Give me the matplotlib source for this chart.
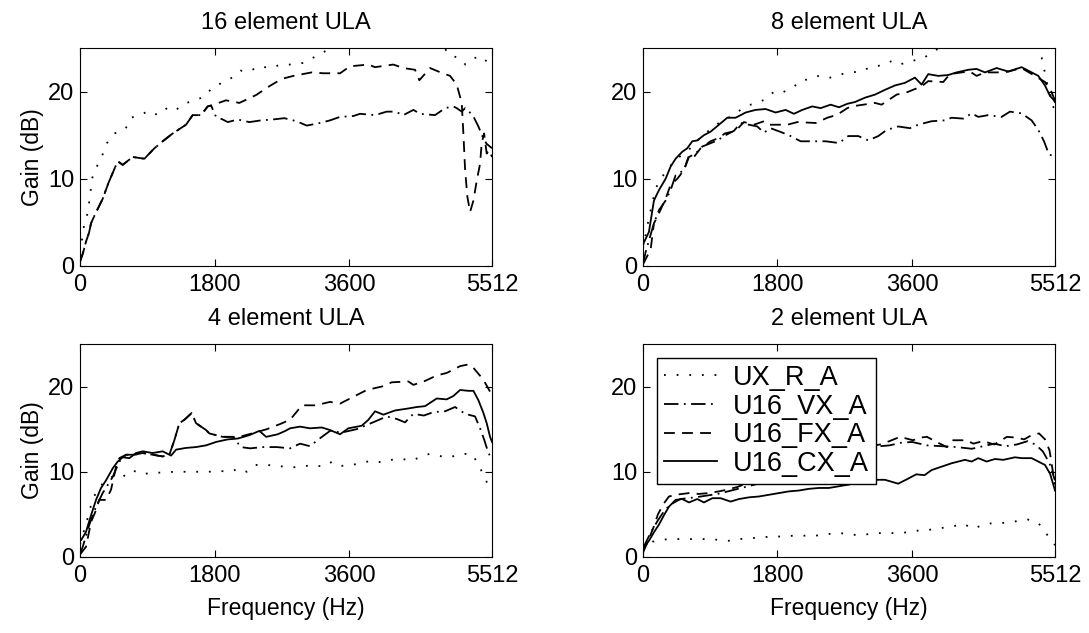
import matplotlib
matplotlib.use("Agg")
import matplotlib.pyplot as plt

plt.rcParams['font.family'] = ['Liberation Sans', 'DejaVu Sans']

# frequency ticks shared by all panels
xticks = [0, 1800, 3600, 5512]
yticks = [0, 10, 20]
titles = ["16 element ULA", "8 element ULA", "4 element ULA", "2 element ULA"]
labels = ["UX_R_A", "U16_VX_A", "U16_FX_A", "U16_CX_A"]

# ---- 16 element ULA ----
e16_r_f = [0, 58, 111, 125, 147, 170, 241, 308, 361, 460, 607, 682, 794, 928, 1039, 1164, 1271, 1387,
           1539, 1673, 1771, 1900, 2034, 2145, 2261, 2395, 2547, 2685, 2845, 2997, 3122, 3247, 3400, 3700,
           4000, 4300, 4600, 4850, 4951, 5071, 5156, 5271, 5352, 5464, 5512]
e16_r_g = [1.5, 4.9, 6.3, 7.6, 9.0, 10.4, 11.7, 12.9, 14.1, 15.2, 15.7, 17.0, 17.3, 17.8, 17.3, 18.1, 17.8, 18.6,
           19.0, 19.45, 20.5, 21.0, 21.6, 22.4, 22.3, 22.9, 22.7, 23.1, 23.1, 23.3, 23.9, 24.45, 25.3, 25.8,
           26.0, 26.0, 25.8, 25.3, 24.1, 23.9, 23.1, 23.8, 24.1, 23.3, 23.5]
e16_vx_f = [0, 40, 80, 120, 147, 205, 303, 379, 473, 504, 571, 705, 861, 995, 1106, 1240, 1418, 1507, 1619,
            1708, 1753, 1820, 1909, 1976, 2110, 2266, 2422, 2578, 2734, 2898, 3033, 3211, 3345, 3479, 3657,
            3746, 3947, 4103, 4215, 4326, 4460, 4549, 4750, 4884, 4996, 5040, 5107, 5152, 5254, 5330, 5397,
            5441, 5512]
e16_vx_g = [0.5, 1.5, 2.8, 3.8, 4.9, 6.0, 7.7, 9.5, 11.4, 12.0, 11.6, 12.5, 12.3, 13.5, 14.3, 15.2, 16.2, 17.3, 17.3,
            18.3, 18.4, 17.1, 16.8, 16.5, 16.8, 16.5, 16.7, 16.8, 16.95, 16.6, 16.1, 16.4, 16.7, 17.1, 17.2,
            17.45, 17.3, 17.7, 17.7, 17.3, 17.9, 17.45, 17.3, 18.1, 18.3, 18.1, 17.7, 18.1, 17.3, 16.0, 14.6,
            14.0, 13.5]
e16_fx_f = [0, 40, 80, 120, 147, 205, 303, 379, 473, 504, 571, 705, 861, 995, 1106, 1240, 1418, 1507, 1619,
            1708, 1753, 1954, 2132, 2355, 2511, 2667, 2720, 2854, 3100, 3256, 3479, 3613, 3858, 3947, 4192,
            4326, 4482, 4540, 4683, 4795, 4951, 5040, 5107, 5129, 5152, 5183, 5219, 5263, 5308, 5352, 5374,
            5406, 5441, 5476, 5512]
e16_fx_g = [0.5, 1.5, 2.8, 3.8, 4.9, 6.0, 7.7, 9.5, 11.4, 12.0, 11.6, 12.5, 12.3, 13.5, 14.3, 15.2, 16.2, 17.3, 17.3,
            18.3, 18.4, 19.0, 18.7, 19.6, 20.5, 21.3, 21.5, 21.8, 22.2, 22.1, 22.1, 22.9, 23.1, 22.8, 23.1,
            22.7, 22.5, 21.3, 22.7, 22.3, 21.8, 20.8, 18.7, 15.2, 11.0, 7.9, 6.2, 7.5, 9.8, 11.7, 14.1,
            15.2, 12.9, 13.3, 12.5]

# ---- 8 element ULA ----
e8_r_f = [0, 80, 169, 300, 450, 589, 800, 1000, 1204, 1374, 1507, 1641, 1753, 1864, 1998, 2119, 2230, 2364,
          2502, 2658, 2770, 2926, 3059, 3193, 3327, 3439, 3572, 3728, 3862, 4000, 4300, 4700, 5000, 5250,
          5334, 5370, 5401, 5446, 5468, 5512]
e8_r_g = [2.0, 5.5, 8.9, 10.8, 12.3, 13.1, 15.0, 16.3, 17.3, 18.3, 18.7, 19.1, 20.0, 19.9, 20.4, 21.3, 21.4, 21.85,
          21.6, 22.0, 22.2, 22.3, 22.9, 22.99, 23.5, 23.1, 23.5, 23.7, 24.45, 25.2, 25.8, 26.0, 25.8, 25.0,
          23.9, 22.5, 21.1, 20.1, 18.5, 18.0]
e8_vx_f = [0, 36, 147, 214, 303, 370, 437, 549, 616, 705, 794, 883, 995, 1106, 1218, 1307, 1418, 1530, 1619,
           1708, 1864, 1976, 2110, 2311, 2445, 2623, 2747, 2881, 3015, 3149, 3260, 3416, 3572, 3684, 3862,
           4040, 4129, 4286, 4397, 4487, 4620, 4799, 4910, 5066, 5200, 5290, 5366, 5432, 5490, 5512]
e8_vx_g = [0.2, 1.6, 4.9, 6.4, 7.5, 8.7, 10.4, 11.0, 12.5, 12.9, 13.7, 14.0, 14.4, 15.0, 15.5, 16.4, 16.2, 16.0, 15.3,
           15.8, 15.3, 14.9, 14.3, 14.3, 14.3, 14.1, 14.9, 14.9, 14.4, 14.9, 15.6, 16.0, 15.8, 16.2, 16.6,
           16.7, 17.0, 16.9, 17.5, 17.1, 17.3, 17.1, 17.7, 17.5, 16.7, 15.6, 14.3, 12.8, 12.6, 12.8]
e8_fx_f = [0, 13, 103, 147, 190, 303, 370, 460, 549, 616, 682, 772, 905, 1017, 1097, 1240, 1351, 1485, 1619,
           1686, 1931, 2065, 2311, 2467, 2600, 2734, 2792, 2950, 3104, 3193, 3394, 3527, 3728, 3817, 4018,
           4107, 4264, 4375, 4464, 4576, 4687, 4843, 5066, 5245, 5379, 5459, 5512]
e8_fx_g = [0.2, 0.4, 1.9, 4.9, 5.6, 7.7, 9.3, 10.0, 11.0, 12.7, 12.5, 13.5, 14.3, 14.7, 15.2, 15.5, 16.5, 16.2, 16.6,
           16.2, 16.2, 16.5, 16.4, 17.0, 17.35, 18.1, 18.3, 18.5, 18.7, 18.5, 19.65, 19.9, 20.6, 21.2, 21.1,
           22.0, 22.2, 22.3, 21.8, 22.2, 22.2, 22.2, 22.7, 21.8, 21.1, 20.1, 19.0]
e8_cx_f = [0, 13, 80, 147, 214, 303, 370, 437, 526, 593, 660, 727, 816, 905, 1017, 1128, 1240, 1374, 1507,
           1641, 1775, 1909, 2020, 2132, 2266, 2377, 2511, 2623, 2734, 2836, 2970, 3104, 3238, 3371, 3505,
           3639, 3728, 3817, 3951, 4085, 4197, 4353, 4464, 4576, 4732, 4888, 5066, 5178, 5290, 5379, 5446,
           5490, 5512]
e8_cx_g = [2.3, 2.7, 3.9, 7.5, 8.7, 10.0, 11.4, 12.3, 13.1, 13.5, 14.3, 14.4, 15.0, 15.4, 16.2, 17.0, 17.0, 17.6, 17.9,
           18.0, 17.6, 17.9, 17.45, 17.9, 18.3, 18.1, 18.5, 18.2, 18.6, 18.8, 19.3, 19.65, 20.2, 20.7, 21.0,
           21.6, 20.8, 22.0, 21.8, 21.9, 22.2, 22.5, 22.6, 22.2, 22.7, 22.3, 22.8, 22.3, 21.8, 20.7, 19.5,
           19.1, 18.8]

# ---- 4 element ULA ----
e4_r_f = [0, 100, 147, 200, 300, 428, 571, 696, 830, 964, 1097, 1262, 1418, 1574, 1721, 1864, 2007, 2132,
          2230, 2346, 2498, 2645, 2810, 2966, 3113, 3256, 3376, 3501, 3644, 3782, 3916, 4036, 4192, 4312,
          4424, 4549, 4674, 4808, 4951, 5085, 5241, 5330, 5397, 5464, 5512]
e4_r_g = [1.5, 4.5, 6.1, 7.3, 8.6, 9.4, 9.4, 10.2, 9.7, 9.9, 9.9, 10.0, 10.0, 10.0, 10.0, 10.1, 10.0, 10.4,
          10.0, 10.8, 10.8, 10.7, 10.5, 10.6, 10.8, 10.6, 11.2, 10.7, 10.8, 11.1, 11.3, 11.1, 11.45, 11.5,
          11.3, 11.7, 12.1, 11.85, 11.7, 12.1, 12.1, 10.9, 9.6, 8.4, 7.8]
e4_vx_f = [0, 36, 125, 214, 303, 437, 526, 616, 727, 839, 972, 1106, 1195, 1262, 1329, 1396, 1494, 1552,
           1686, 1730, 1909, 2050, 2150, 2275, 2453, 2632, 2810, 2944, 3077, 3190, 3345, 3500, 3700, 3947,
           4103, 4237, 4348, 4460, 4600, 4727, 4884, 5018, 5152, 5285, 5352, 5406, 5464, 5512]
e4_vx_g = [0.3, 1.2, 3.8, 5.9, 7.5, 9.4, 11.2, 12.0, 12.0, 12.2, 12.0, 11.8, 12.0, 13.7, 15.7, 16.1, 16.9, 15.7,
           14.9, 14.5, 14.1, 14.1, 12.9, 12.75, 12.9, 12.9, 12.75, 13.3, 13.0, 13.8, 14.8, 14.6, 15.0, 15.9,
           16.5, 16.2, 15.8, 16.8, 16.6, 17.0, 17.1, 17.6, 16.8, 16.5, 15.1, 13.8, 12.2, 11.5]
e4_fx_f = [0, 80, 147, 214, 257, 348, 415, 482, 526, 616, 727, 839, 972, 1106, 1195, 1262, 1329, 1396, 1494,
           1552, 1686, 1730, 1909, 2132, 2300, 2500, 2676, 2810, 2970, 3150, 3345, 3479, 3702, 3836, 4036,
           4170, 4393, 4460, 4600, 4772, 4906, 5085, 5196, 5263, 5397, 5486, 5512]
e4_fx_g = [0.3, 1.2, 4.1, 5.5, 6.7, 6.7, 7.9, 10.6, 11.6, 12.0, 12.0, 12.2, 12.0, 11.8, 12.0, 13.7, 15.7, 16.1, 16.9,
           15.7, 14.9, 14.5, 14.1, 14.1, 14.5, 15.0, 15.6, 16.1, 17.8, 17.8, 18.2, 18.0, 19.0, 19.6, 20.0,
           20.5, 20.6, 20.2, 20.6, 21.3, 21.6, 22.4, 22.6, 22.2, 20.8, 19.4, 19.0]
e4_cx_f = [0, 13, 80, 147, 214, 281, 348, 437, 504, 571, 660, 749, 839, 972, 1106, 1218, 1285, 1418, 1552,
           1686, 1820, 1976, 2110, 2266, 2400, 2489, 2645, 2747, 2810, 2943, 3077, 3233, 3345, 3479, 3590,
           3768, 3858, 3947, 4058, 4215, 4371, 4505, 4616, 4772, 4906, 4996, 5085, 5196, 5263, 5330, 5397,
           5441, 5486, 5512]
e4_cx_g = [2.0, 1.96, 2.95, 4.9, 6.7, 8.1, 9.0, 10.4, 11.2, 11.7, 11.6, 12.2, 12.4, 12.2, 12.4, 11.9, 12.6, 12.8, 12.9,
           13.1, 13.5, 13.8, 13.9, 14.3, 14.8, 14.1, 14.4, 14.8, 15.1, 15.3, 15.1, 15.2, 14.9, 14.4, 15.1,
           15.4, 16.1, 17.1, 16.7, 17.2, 17.4, 17.6, 17.7, 18.6, 18.5, 18.9, 19.6, 19.5, 19.5, 18.4, 16.9,
           15.7, 14.1, 13.5]

# ---- 2 element ULA ----
e2_r_f = [0, 130, 281, 415, 571, 727, 883, 1017, 1151, 1285, 1441, 1574, 1730, 1864, 2020, 2154, 2311, 2489,
          2645, 2792, 2948, 3104, 3238, 3394, 3550, 3684, 3840, 3996, 4152, 4286, 4420, 4553, 4701, 4843,
          4999, 5146, 5290, 5401, 5490, 5512]
e2_r_g = [0.8, 1.8, 2.05, 2.1, 2.1, 2.1, 2.1, 2.0, 1.9, 2.1, 2.2, 2.3, 2.4, 2.4, 2.5, 2.5, 2.5, 2.7,
          2.8, 2.6, 2.6, 2.8, 2.8, 2.8, 2.9, 3.1, 3.2, 3.4, 3.6, 3.9, 3.3, 3.8, 4.0, 4.0,
          4.2, 4.4, 4.0, 2.7, 1.6, 1.4]
e2_vx_f = [0, 100, 200, 300, 400, 500, 700, 1000, 1500, 2000, 2500, 2900, 3171, 3300, 3450, 3600, 3800,
           4000, 4200, 4400, 4550, 4700, 4850, 5000, 5150, 5250, 5350, 5440, 5512]
e2_vx_g = [1.0, 2.8, 4.3, 5.6, 6.3, 6.8, 7.0, 7.4, 8.5, 9.8, 11.3, 12.4, 13.0, 13.1, 13.4, 13.5, 13.1,
           13.0, 12.9, 12.7, 13.0, 13.3, 13.0, 13.2, 13.6, 13.2, 12.4, 11.0, 9.0]
e2_fx_f = [0, 60, 147, 200, 281, 348, 437, 616, 749, 883, 1017, 1124, 1258, 1500, 2000, 2500, 2900, 3171,
           3300, 3439, 3613, 3700, 3800, 3950, 4067, 4150, 4330, 4420, 4550, 4700, 4870, 5004, 5100, 5200,
           5300, 5380, 5440, 5512]
e2_fx_g = [0.5, 1.7, 3.6, 5.0, 6.3, 7.1, 7.3, 7.5, 7.4, 7.5, 7.7, 7.9, 8.2, 9.0, 10.5, 11.8, 12.8, 13.2,
           13.6, 14.1, 13.7, 14.0, 14.1, 13.4, 12.9, 13.7, 13.7, 13.3, 13.6, 13.2, 14.1, 14.0, 13.8, 14.3,
           14.5, 13.8, 12.5, 8.5]
e2_cx_f = [0, 13, 80, 147, 214, 281, 348, 437, 526, 616, 727, 816, 928, 1039, 1173, 1285, 1418, 1552, 1686,
           1820, 1953, 2087, 2222, 2355, 2489, 2623, 2757, 2881, 3059, 3238, 3416, 3549, 3657, 3768, 3862,
           3996, 4130, 4219, 4308, 4397, 4487, 4598, 4710, 4821, 4977, 5066, 5200, 5290, 5379, 5446, 5504,
           5512]
e2_cx_g = [0.9, 1.1, 1.9, 2.9, 3.8, 4.9, 5.9, 6.7, 6.8, 6.4, 6.8, 6.4, 6.9, 6.9, 6.5, 6.8, 7.0, 7.1, 7.3,
           7.5, 7.7, 7.8, 8.0, 8.1, 8.1, 8.3, 8.5, 8.9, 9.06, 9.06, 8.6, 9.2, 9.7, 9.6, 10.2,
           10.6, 11.0, 11.2, 11.4, 11.2, 11.6, 11.2, 11.5, 11.4, 11.7, 11.6, 11.6, 11.2, 10.8, 9.8, 8.1,
           7.8]

styles = {
    "r": dict(linestyle=(0, (1, 6))),
    "vx": dict(linestyle=(0, (8, 3, 1, 3))),
    "fx": dict(linestyle=(0, (6, 4))),
    "cx": dict(linestyle="-"),
}

panels = [
    [("r", e16_r_f, e16_r_g), ("vx", e16_vx_f, e16_vx_g), ("fx", e16_fx_f, e16_fx_g)],
    [("r", e8_r_f, e8_r_g), ("vx", e8_vx_f, e8_vx_g), ("fx", e8_fx_f, e8_fx_g), ("cx", e8_cx_f, e8_cx_g)],
    [("r", e4_r_f, e4_r_g), ("vx", e4_vx_f, e4_vx_g), ("fx", e4_fx_f, e4_fx_g), ("cx", e4_cx_f, e4_cx_g)],
    [("r", e2_r_f, e2_r_g), ("vx", e2_vx_f, e2_vx_g), ("fx", e2_fx_f, e2_fx_g), ("cx", e2_cx_f, e2_cx_g)],
]

fig = plt.figure(figsize=(10.89, 6.33), dpi=100)
rects = [
    [0.0735, 0.5798, 0.3783, 0.3444],
    [0.5904, 0.5798, 0.3783, 0.3444],
    [0.0735, 0.1201, 0.3783, 0.3365],
    [0.5904, 0.1201, 0.3783, 0.3365],
]

for i, rect in enumerate(rects):
    ax = fig.add_axes(rect)
    for key, f, g in panels[i]:
        ax.plot(f, g, color="black", lw=1.3, label=labels[["r", "vx", "fx", "cx"].index(key)], **styles[key])
    ax.set_xlim(0, 5512)
    ax.set_ylim(0, 25)
    ax.set_xticks(xticks)
    ax.set_yticks(yticks)
    ax.tick_params(direction="in", top=True, right=True, labelsize=17, length=5, pad=4)
    ax.tick_params(axis="x", pad=6)
    ax.set_title(titles[i], fontsize=17, pad=14)
    if i % 2 == 0:
        ax.set_ylabel("Gain (dB)", fontsize=16.5, labelpad=3)
    if i >= 2:
        ax.set_xlabel("Frequency (Hz)", fontsize=16.5, labelpad=7)
    if i == 3:
        leg = ax.legend(loc="upper left", bbox_to_anchor=(0.034, 0.934), borderaxespad=0,
                        fontsize=19.5, fancybox=False, framealpha=1, edgecolor="black",
                        handlelength=1.95, handletextpad=0.6, labelspacing=0.1, borderpad=0.25)
        leg.get_frame().set_linewidth(1.0)

fig.savefig("out.png", dpi=100)
